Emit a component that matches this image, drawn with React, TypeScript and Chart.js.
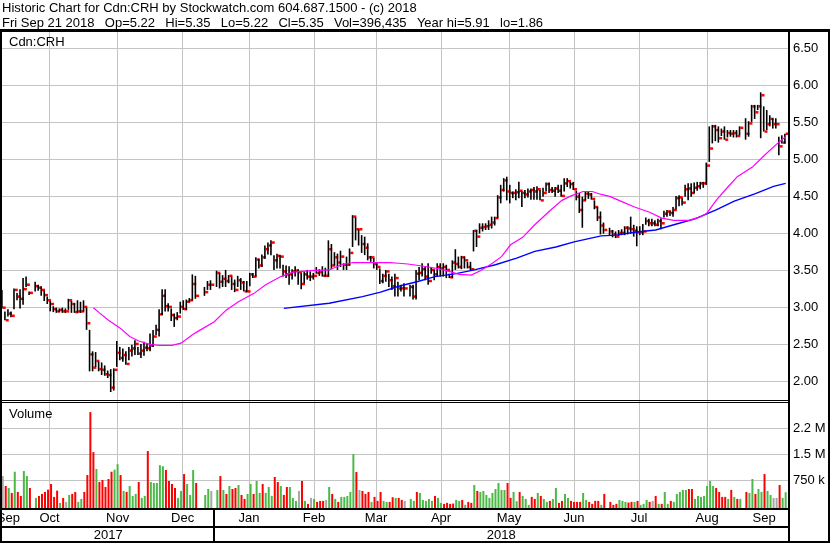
import React, { useEffect, useRef } from 'react';
import { Chart, registerables } from 'chart.js';

Chart.register(...registerables);

const FONT = "'Liberation Sans', Arial, Helvetica, sans-serif";
const GRID = '#c4c4c4';

const TITLE = 'Historic Chart for Cdn:CRH by Stockwatch.com 604.687.1500 - (c) 2018';
const INFO_ITEMS = ['Fri Sep 21 2018', 'Op=5.22', 'Hi=5.35', 'Lo=5.22', 'Cl=5.35', 'Vol=396,435', 'Year hi=5.91', 'lo=1.86'];
const SYMBOL = 'Cdn:CRH';
const VOLUME_TITLE = 'Volume';

// one slot per weekday: slot 0 = Mon Sep 25 2017 ... slot 259 = Fri Sep 21 2018 (null = market holiday)
const highs = [
  3.24, 2.95, 2.98, 2.95, 3.26, 3.20, 3.25, 3.40, 3.42, 3.22,
  null, 3.35, 3.31, 3.29, 3.23, 3.15, 3.09, 3.02, 3.00, 2.99,
  3.00, 2.99, 3.12, 3.09, 3.06, 3.10, 3.08, 3.10, 3.00, 2.70,
  2.41, 2.40, 2.27, 2.26, 2.22, 2.15, 2.17, 2.18, 2.55, 2.47,
  2.45, 2.41, 2.47, 2.50, 2.56, 2.47, 2.51, 2.54, 2.52, 2.65,
  2.70, 2.77, 2.98, 3.25, 3.25, 3.06, 2.99, 2.92, 2.94, 3.08,
  3.10, 3.11, 3.13, 3.45, 3.43, null, null, 3.28, 3.36, 3.37,
  null, 3.50, 3.47, 3.44, 3.51, 3.44, 3.42, 3.38, 3.43, 3.40,
  3.36, 3.36, 3.47, 3.47, 3.68, 3.66, 3.72, 3.84, 3.88, 3.91,
  3.71, 3.73, 3.71, 3.58, 3.57, 3.56, 3.52, 3.56, 3.52, 3.47,
  3.49, 3.51, 3.49, 3.47, 3.55, 3.52, 3.56, 3.54, 3.91, 3.86,
  3.75, 3.73, 3.77, 3.60, 3.69, 3.80, 4.25, 4.22, 4.06, 3.98,
  3.96, 3.87, 3.70, 3.67, 3.60, 3.53, 3.46, 3.51, 3.46, 3.42,
  3.46, 3.35, 3.31, 3.33, null, 3.31, 3.31, 3.51, 3.55, 3.60,
  3.55, 3.60, 3.55, 3.51, 3.60, 3.60, 3.60, 3.58, 3.46, 3.64,
  3.79, 3.69, 3.70, 3.69, 3.62, 3.62, 4.05, 4.05, 4.14, 4.14,
  4.14, 4.18, 4.23, 4.23, 4.52, 4.66, 4.75, 4.77, 4.66, 4.57,
  4.60, 4.70, 4.57, 4.59, 4.61, 4.61, 4.63, 4.64, 4.59, 4.62,
  4.69, 4.69, 4.63, 4.63, 4.66, 4.66, 4.75, 4.75, 4.70, 4.70,
  4.58, 4.55, 4.50, 4.57, 4.57, 4.55, 4.45, 4.36, 4.30, 4.15,
  null, 4.08, 4.05, 4.03, 4.05, 4.06, 4.10, 4.10, 4.23, 4.12,
  4.10, 4.10, 4.13, 4.22, 4.20, 4.20, 4.18, 4.20, 4.21, 4.31,
  4.32, 4.31, 4.36, 4.51, 4.52, 4.48, 4.66, 4.68, 4.68, 4.69,
  4.70, 4.70, 4.70, 4.96, 5.45, 5.47, 5.47, 5.45, 5.42, 5.45,
  5.40, 5.40, 5.40, 5.40, 5.45, null, 5.56, 5.52, 5.74, 5.74,
  5.74, 5.91, 5.72, 5.67, 5.60, 5.56, 5.56, 5.31, 5.33, 5.35,
];

const lows = [
  2.99, 2.83, 2.88, 2.87, 2.98, 3.10, 2.99, 3.04, 3.28, 3.17,
  null, 3.22, 3.23, 3.16, 3.09, 3.05, 2.95, 2.94, 2.93, 2.94,
  2.93, 2.93, 2.97, 2.93, 2.93, 2.93, 2.93, 2.95, 2.70, 2.14,
  2.14, 2.20, 2.14, 2.09, 2.08, 2.05, 1.86, 1.88, 2.20, 2.29,
  2.27, 2.23, 2.29, 2.34, 2.36, 2.36, 2.32, 2.35, 2.41, 2.41,
  2.47, 2.63, 2.61, 2.90, 2.95, 2.95, 2.82, 2.74, 2.83, 2.92,
  2.97, 2.97, 3.08, 3.10, 3.12, null, null, 3.16, 3.24, 3.24,
  null, 3.28, 3.26, 3.28, 3.28, 3.33, 3.24, 3.21, 3.28, 3.24,
  3.22, 3.21, 3.29, 3.40, 3.42, 3.53, 3.55, 3.66, 3.72, 3.71,
  3.51, 3.53, 3.53, 3.42, 3.40, 3.31, 3.38, 3.42, 3.31, 3.25,
  3.33, 3.38, 3.36, 3.38, 3.46, 3.43, 3.42, 3.42, 3.42, 3.52,
  3.57, 3.51, 3.55, 3.51, 3.51, 3.57, 3.82, 3.91, 3.84, 3.74,
  3.71, 3.64, 3.62, 3.53, 3.51, 3.32, 3.33, 3.35, 3.28, 3.24,
  3.15, 3.15, 3.22, 3.15, null, 3.15, 3.11, 3.11, 3.37, 3.42,
  3.37, 3.31, 3.46, 3.37, 3.42, 3.42, 3.42, 3.40, 3.40, 3.40,
  3.51, 3.53, 3.52, 3.53, 3.53, 3.50, 3.76, 3.82, 4.00, 4.03,
  4.05, 4.05, 4.07, 4.11, 4.21, 4.41, 4.57, 4.45, 4.41, 4.48,
  4.45, 4.48, 4.36, 4.48, 4.49, 4.46, 4.46, 4.46, 4.45, 4.50,
  4.57, 4.55, 4.55, 4.50, 4.55, 4.50, 4.57, 4.63, 4.61, 4.59,
  4.45, 4.28, 4.08, 4.45, 4.47, 4.46, 4.33, 4.17, 3.99, 4.00,
  null, 3.98, 3.95, 3.94, 3.97, 3.98, 3.98, 3.99, 4.00, 3.96,
  3.83, 3.98, 3.98, 4.12, 4.10, 4.10, 4.10, 4.10, 4.06, 4.22,
  4.23, 4.24, 4.23, 4.33, 4.37, 4.38, 4.50, 4.45, 4.50, 4.55,
  4.58, 4.60, 4.62, 4.66, 4.97, 5.22, 5.25, 5.23, 5.32, 5.27,
  5.30, 5.31, 5.30, 5.30, 5.33, null, 5.27, 5.31, 5.51, 5.55,
  5.67, 5.29, 5.38, 5.40, 5.45, 5.42, 5.42, 5.06, 5.22, 5.22,
];

const closes = [
  3.00, 2.83, 2.92, 2.89, 3.24, 3.15, 3.12, 3.25, 3.31, 3.20,
  null, 3.29, 3.27, 3.24, 3.17, 3.10, 3.05, 2.98, 2.95, 2.97,
  2.95, 2.95, 3.10, 3.05, 2.94, 2.95, 2.95, 3.01, 2.79, 2.37,
  2.19, 2.28, 2.17, 2.16, 2.10, 2.09, 1.92, 2.16, 2.39, 2.32,
  2.36, 2.24, 2.42, 2.45, 2.51, 2.38, 2.42, 2.46, 2.45, 2.49,
  2.61, 2.70, 2.91, 3.16, 3.02, 3.01, 2.90, 2.86, 2.88, 3.01,
  2.98, 3.08, 3.10, 3.32, 3.16, null, null, 3.21, 3.31, 3.31,
  null, 3.47, 3.35, 3.39, 3.36, 3.43, 3.32, 3.24, 3.37, 3.34,
  3.22, 3.22, 3.45, 3.42, 3.65, 3.57, 3.68, 3.79, 3.84, 3.88,
  3.64, 3.70, 3.69, 3.49, 3.45, 3.45, 3.49, 3.50, 3.48, 3.32,
  3.45, 3.42, 3.42, 3.43, 3.47, 3.48, 3.43, 3.43, 3.79, 3.57,
  3.68, 3.61, 3.69, 3.58, 3.58, 3.74, 4.23, 4.06, 4.06, 3.86,
  3.81, 3.68, 3.68, 3.59, 3.55, 3.36, 3.43, 3.49, 3.37, 3.29,
  3.40, 3.26, 3.26, 3.26, null, 3.28, 3.15, 3.46, 3.47, 3.52,
  3.42, 3.36, 3.51, 3.45, 3.55, 3.53, 3.55, 3.51, 3.41, 3.61,
  3.59, 3.55, 3.68, 3.64, 3.55, 3.52, 4.04, 3.96, 4.08, 4.09,
  4.10, 4.12, 4.15, 4.21, 4.49, 4.59, 4.72, 4.57, 4.55, 4.55,
  4.56, 4.58, 4.55, 4.53, 4.57, 4.59, 4.57, 4.60, 4.45, 4.55,
  4.67, 4.59, 4.58, 4.61, 4.58, 4.51, 4.68, 4.71, 4.67, 4.60,
  4.50, 4.32, 4.45, 4.54, 4.53, 4.47, 4.36, 4.22, 4.11, 4.05,
  null, 4.03, 3.99, 3.96, 4.01, 4.01, 4.08, 4.07, 4.06, 4.04,
  4.02, 4.02, 4.03, 4.17, 4.14, 4.14, 4.12, 4.17, 4.14, 4.27,
  4.30, 4.28, 4.32, 4.48, 4.49, 4.42, 4.60, 4.61, 4.55, 4.62,
  4.64, 4.68, 4.68, 4.92, 5.15, 5.45, 5.40, 5.29, 5.38, 5.27,
  5.36, 5.35, 5.36, 5.32, 5.43, null, 5.35, 5.49, 5.72, 5.64,
  5.72, 5.87, 5.38, 5.48, 5.55, 5.48, 5.48, 5.18, 5.23, 5.35,
];

// daily volume in thousands of shares
const volumesK = [
  865, 577, 519, 375, 990, 404, 288, 1010, 865, 519,
  null, 231, 288, 346, 404, 471, 635, 260, 442, 87,
  231, 115, 317, 346, 404, 115, 202, 404, 894, 2720,
  1560, 1070, 692, 750, 548, 779, 990, 1050, 1210, 894,
  433, 404, 577, 288, 346, 692, 231, 288, 1590, 692,
  663, 663, 1180, 1150, 1040, 721, 635, 519, 231, 433,
  923, 635, 317, 1040, 663, null, null, 317, 490, 433,
  null, 462, 865, 462, 346, 577, 490, 519, 606, 317,
  202, 346, 635, 346, 721, 375, 635, 375, 548, 288,
  837, 692, 577, 317, 548, 548, 231, 144, 433, 721,
  144, 58, 231, 202, 115, 144, 144, 173, 548, 346,
  202, 115, 260, 260, 288, 404, 1500, 981, 462, 433,
  346, 404, 115, 260, 144, 404, 144, 115, 115, 250,
  231, 231, 173, 144, null, 202, 144, 404, 375, 173,
  144, 202, 144, 288, 231, 87, 58, 87, 58, 67,
  173, 144, 173, 29, 115, 87, 606, 433, 404, 433,
  317, 231, 375, 490, 663, 462, 462, 663, 231, 404,
  135, 404, 288, 202, 29, 260, 202, 375, 288, 200,
  115, 144, 202, 519, 87, 144, 346, 231, 144, 115,
  115, 115, 375, 173, 115, 58, 144, 144, 29, 346,
  null, 115, 29, 58, 173, 144, 115, 96, 115, 115,
  144, 29, 58, 173, 115, 144, 288, 58, 58, 404,
  58, 144, 115, 346, 404, 462, 462, 490, 490, 202,
  288, 260, 288, 577, 721, 577, 519, 404, 260, 260,
  202, 462, 260, 202, 202, null, 404, 375, 779, 346,
  490, 404, 923, 433, 317, 231, 231, 606, 231, 396,
];

// g = up day, r = down day, n = unchanged, - = holiday
const volDir = (
  'nrgrgrrggr' + '-grrrrrrrg' + 'rngrrggrrr' + 'rgrrrrrggr' + 'grgggrggrg' +
  'ggggrrrrgg' + 'rgggr--ggn' + '-grgrgrrgr' + 'rggrggrggg' + 'rrgrrgggnr' +
  'grngrrrngr' + 'grgggggrnr' + 'rrgrrrggrr' + 'grrn-ggrgg' + 'gggrggrrrr' +
  'ggrgrrgrgg' + 'gggggggrrg' + 'grgggrrgrg' + 'grggrrggrr' + 'rrggrrrrgr' +
  '-rrrgggrrg' + 'rgggrnrgrg' + 'grgggggrrg' + 'ggggggrrrr' + 'grgrg-rggr' +
  'ggrggnnrgg'
).split('');

// moving averages (slot, price)
const maShortSlots = [30, 32, 35, 39, 42, 45, 49, 52, 56, 59, 61, 63, 65, 70, 74, 78, 83, 87, 92, 96, 102, 108, 112, 116, 123, 128, 131, 134, 141, 146, 151, 155, 158, 162, 165, 168, 172, 176, 181, 185, 188, 192, 195, 198, 201, 205, 209, 214, 218, 222, 227, 231, 233, 236, 239, 243, 248, 252, 256, 259];
const maShortValues = [3.00, 2.93, 2.83, 2.72, 2.61, 2.55, 2.50, 2.49, 2.49, 2.52, 2.58, 2.64, 2.69, 2.81, 2.97, 3.08, 3.19, 3.31, 3.42, 3.48, 3.50, 3.51, 3.58, 3.61, 3.61, 3.61, 3.60, 3.59, 3.55, 3.51, 3.45, 3.44, 3.50, 3.60, 3.69, 3.85, 3.95, 4.12, 4.31, 4.45, 4.51, 4.57, 4.57, 4.53, 4.50, 4.43, 4.36, 4.29, 4.21, 4.18, 4.18, 4.23, 4.28, 4.45, 4.59, 4.77, 4.90, 5.06, 5.21, 5.31];
const maLongSlots = [93, 108, 119, 125, 131, 137, 143, 150, 156, 163, 170, 176, 183, 189, 198, 203, 209, 216, 222, 229, 236, 242, 249, 255, 259];
const maLongValues = [2.99, 3.06, 3.15, 3.21, 3.29, 3.35, 3.42, 3.46, 3.51, 3.58, 3.67, 3.76, 3.82, 3.89, 3.97, 3.98, 4.02, 4.05, 4.12, 4.20, 4.32, 4.44, 4.54, 4.64, 4.68];

// x axis: month starts (slot of the 1st or the weekday before it) and names
const monthNames = ['Sep', 'Oct', 'Nov', 'Dec', 'Jan', 'Feb', 'Mar', 'Apr', 'May', 'Jun', 'Jul', 'Aug', 'Sep'];
const monthStartSlots = [4, 27, 49, 70, 93, 113, 134, 156, 179, 199, 222, 244];
const years = ['2017', '2018'];
const yearStartSlot = 70;

const priceTicks = [2.0, 2.25, 2.5, 2.75, 3.0, 3.25, 3.5, 3.75, 4.0, 4.25, 4.5, 4.75, 5.0, 5.25, 5.5, 5.75, 6.0, 6.25, 6.5];
const volTicks = [750000, 1500000, 2250000];
const volTickLabels = ['750 k', '1.5 M', '2.2 M'];

const X_MIN = -0.23;
const X_MAX = 259.77;
const P_MIN = 1.739;
const P_MAX = 6.725;
const V_MIN = -91000;
const V_MAX = 3042000;

const DIR_COLORS: Record<string, string> = { g: '#4cb848', r: '#ff0000', n: '#a6a6a6' };

export default function App() {
  const ref = useRef<HTMLCanvasElement>(null);

  useEffect(() => {
    const canvas = ref.current;
    if (!canvas) return;

    const rangeData: any[] = [];
    const closeData: any[] = [];
    const volData: any[] = [];
    const volColors: string[] = [];
    for (let i = 0; i < highs.length; i++) {
      const h = highs[i], l = lows[i], c = closes[i];
      if (h != null && l != null && c != null) {
        rangeData.push({ x: i, y: [l, h] });
        closeData.push({ x: i, y: [c - 0.017, c + 0.017] });
      }
      const v = volumesK[i];
      if (v != null) {
        volData.push({ x: i, y: v * 1000 });
        volColors.push(DIR_COLORS[volDir[i]] || DIR_COLORS.n);
      }
    }

    const labelSlots: number[] = [];
    const bounds = [X_MIN, ...monthStartSlots, X_MAX];
    for (let k = 0; k < monthNames.length; k++) labelSlots.push((bounds[k] + bounds[k + 1]) / 2);
    const labelMap = new Map<number, string>();
    labelSlots.forEach((s, k) => labelMap.set(s, monthNames[k]));
    const startSet = new Set<number>(monthStartSlots);
    const volLabelMap = new Map<number, string>();
    volTicks.forEach((v, k) => volLabelMap.set(v, volTickLabels[k]));

    const framePlugin = {
      id: 'frame',
      beforeDraw(chart: any) {
        const ctx = chart.ctx;
        ctx.save();
        ctx.fillStyle = '#ffffff';
        ctx.fillRect(0, 0, chart.width, chart.height);
        ctx.restore();
      },
      afterDraw(chart: any) {
        const ctx = chart.ctx;
        const area = chart.chartArea;
        const xs = chart.scales.x;
        const W = chart.width;
        const H = chart.height;
        const right = area.right;
        ctx.save();
        ctx.fillStyle = '#000000';
        ctx.fillRect(0, 29, W, 3);
        ctx.fillRect(0, 29, 2, H - 29);
        ctx.fillRect(right, 29, 2, H - 29);
        ctx.fillRect(W - 2, 29, 2, H - 29);
        ctx.fillRect(0, 400, right + 2, 1);
        ctx.fillRect(0, 402, right + 2, 1);
        ctx.fillRect(0, area.bottom - 1, right + 2, 2);
        ctx.fillRect(0, 526, right + 2, 2);
        ctx.fillRect(0, H - 2, W, 2);
        const yx = Math.round(xs.getPixelForValue(yearStartSlot)) - 1;
        ctx.fillRect(yx, area.bottom - 1, 2, H - area.bottom + 1);

        ctx.font = `13px ${FONT}`;
        ctx.textBaseline = 'alphabetic';
        ctx.textAlign = 'left';
        ctx.fillText(TITLE, 2, 12);
        let x = 2;
        for (const item of INFO_ITEMS) {
          ctx.fillText(item, x, 27);
          x += ctx.measureText(item).width + 10.3;
        }
        ctx.fillText(SYMBOL, 9, 46);
        ctx.fillText(VOLUME_TITLE, 9, 418);

        ctx.textAlign = 'center';
        const yearBounds = [area.left, xs.getPixelForValue(yearStartSlot), right];
        years.forEach((y, k) => ctx.fillText(y, (yearBounds[k] + yearBounds[k + 1]) / 2, 539));
        ctx.restore();
      },
    };

    const chart = new Chart(canvas, {
      type: 'bar',
      data: {
        datasets: [
          {
            type: 'line',
            label: 'MA short',
            data: maShortSlots.map((s, k) => ({ x: s, y: maShortValues[k] })),
            borderColor: '#ff00ff',
            borderWidth: 1.2,
            pointRadius: 0,
            fill: false,
            tension: 0,
            yAxisID: 'y',
            xAxisID: 'x',
            order: 1,
          } as any,
          {
            type: 'line',
            label: 'MA long',
            data: maLongSlots.map((s, k) => ({ x: s, y: maLongValues[k] })),
            borderColor: '#0000ff',
            borderWidth: 1.4,
            pointRadius: 0,
            fill: false,
            tension: 0,
            yAxisID: 'y',
            xAxisID: 'x',
            order: 2,
          } as any,
          {
            type: 'bar',
            label: 'Range',
            data: rangeData,
            backgroundColor: '#000000',
            borderWidth: 0,
            inflateAmount: 0,
            grouped: true,
            stack: 'range',
            barThickness: 1.6,
            yAxisID: 'y',
            xAxisID: 'x',
            order: 3,
          } as any,
          {
            type: 'bar',
            label: 'Close',
            data: closeData,
            backgroundColor: '#ff0000',
            borderWidth: 0,
            inflateAmount: 0,
            grouped: true,
            stack: 'close',
            barThickness: 3,
            yAxisID: 'y',
            xAxisID: 'x',
            order: 4,
          } as any,
          {
            type: 'bar',
            label: 'Volume',
            data: volData,
            backgroundColor: volColors,
            borderWidth: 0,
            inflateAmount: 0,
            grouped: false,
            barThickness: 2,
            maxBarThickness: 2,
            base: V_MIN,
            yAxisID: 'yv',
            xAxisID: 'x',
            order: 5,
          } as any,
        ],
      },
      options: {
        responsive: false,
        maintainAspectRatio: false,
        animation: false,
        devicePixelRatio: 1,
        events: [],
        layout: { padding: { left: 2, top: 32, right: 0, bottom: 0 }, autoPadding: false } as any,
        plugins: {
          legend: { display: false },
          tooltip: { enabled: false },
          title: { display: false },
        },
        scales: {
          x: {
            type: 'linear',
            position: 'bottom',
            min: X_MIN,
            max: X_MAX,
            offset: false,
            stacked: false,
            border: { display: false },
            grid: {
              drawTicks: false,
              lineWidth: 1,
              color: (ctx: any) => (ctx.tick && startSet.has(ctx.tick.value) ? GRID : 'rgba(0,0,0,0)'),
            },
            ticks: {
              autoSkip: false,
              maxRotation: 0,
              minRotation: 0,
              padding: 1.5,
              color: '#000000',
              font: { family: FONT, size: 13 },
              callback: (value: any) => labelMap.get(Number(value)) ?? '',
            },
            afterBuildTicks: (scale: any) => {
              scale.ticks = [...monthStartSlots, ...labelSlots].map((v) => ({ value: v }));
            },
            afterFit: (scale: any) => {
              scale.height = 34;
            },
          } as any,
          y: {
            type: 'linear',
            position: 'right',
            stack: 'panels',
            stackWeight: 369,
            min: P_MIN,
            max: P_MAX,
            border: { display: false },
            grid: { drawTicks: false, color: GRID, lineWidth: 1 },
            ticks: {
              padding: 5,
              color: '#000000',
              font: { family: FONT, size: 13 },
              callback: (value: any) => Number(value).toFixed(2),
            },
            afterBuildTicks: (scale: any) => {
              scale.ticks = priceTicks.map((v) => ({ value: v }));
            },
            afterFit: (scale: any) => {
              scale.width = 42;
            },
          } as any,
          yv: {
            type: 'linear',
            position: 'right',
            stack: 'panels',
            stackWeight: 108,
            min: V_MIN,
            max: V_MAX,
            border: { display: false },
            grid: { drawTicks: false, color: GRID, lineWidth: 1 },
            ticks: {
              padding: 5,
              color: '#000000',
              font: { family: FONT, size: 13 },
              callback: (value: any) => volLabelMap.get(Number(value)) ?? '',
            },
            afterBuildTicks: (scale: any) => {
              scale.ticks = volTicks.map((v) => ({ value: v }));
            },
            afterFit: (scale: any) => {
              scale.width = 42;
            },
          } as any,
        },
      },
      plugins: [framePlugin],
    } as any);

    return () => chart.destroy();
  }, []);

  return (
    <div style={{ position: 'fixed', left: 0, top: 0, width: 830, height: 543, background: '#ffffff' }}>
      <canvas ref={ref} width={830} height={543} style={{ display: 'block', width: 830, height: 543 }} />
    </div>
  );
}
